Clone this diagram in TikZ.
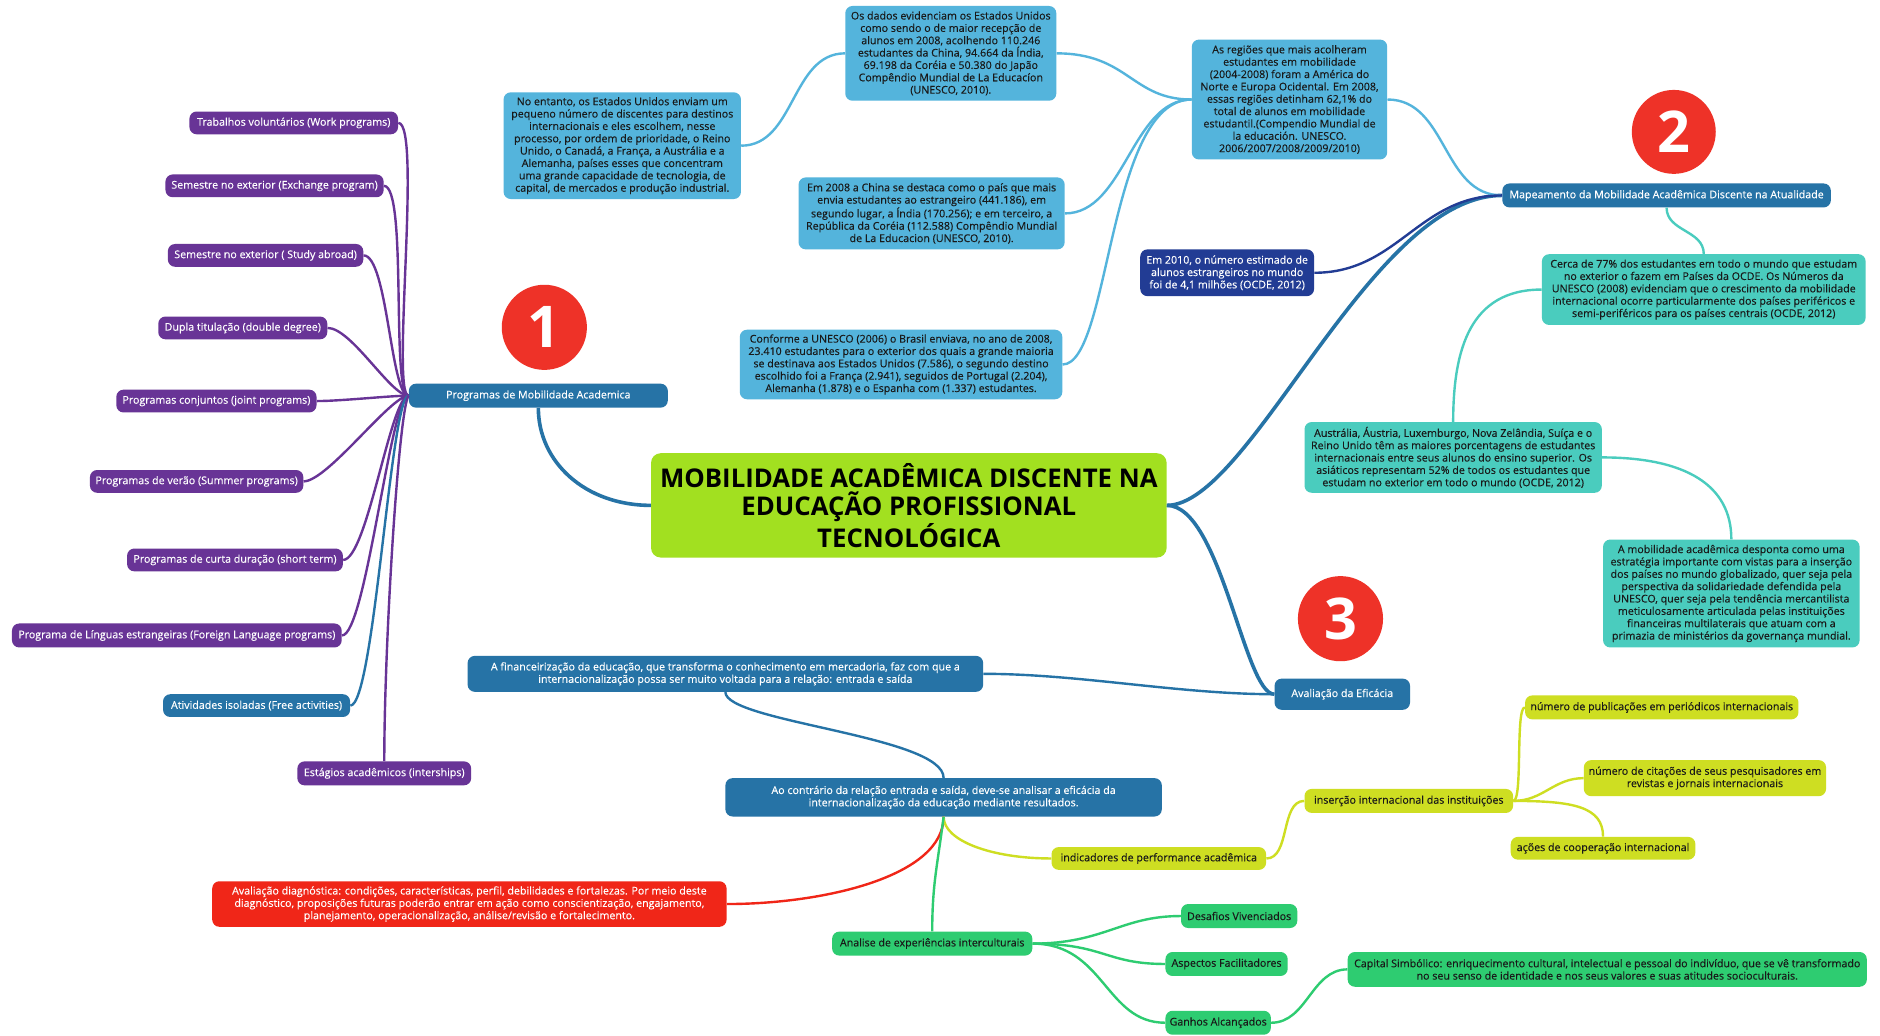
\documentclass[tikz,border=0pt]{standalone}
\usepackage{fontspec}
\setmainfont{Open Sans}
\newfontfamily\boxfont{Open Sans}[FakeBold=0.25]
\definecolor{cpur}{RGB}{104,52,150}
\definecolor{cblue}{RGB}{38,115,166}
\definecolor{clb}{RGB}{84,180,220}
\definecolor{cnavy}{RGB}{34,60,148}
\definecolor{cteal}{RGB}{74,204,190}
\definecolor{clime}{RGB}{162,224,32}
\definecolor{cyel}{RGB}{206,222,34}
\definecolor{cgrn}{RGB}{46,204,113}
\definecolor{cred}{RGB}{240,38,24}
\definecolor{ccirc}{RGB}{238,50,40}
\definecolor{ctxt}{RGB}{25,25,25}
\newcommand{\fsa}{\boxfont\fontsize{8.9}{10.3}\selectfont}
\newcommand{\fsb}{\boxfont\fontsize{8.9}{10.3}\selectfont}
\begin{document}
\begin{tikzpicture}[x=1pt,y=-1pt,
  box/.style={rounded corners=6pt, inner sep=0pt, align=center, font=\fsa},
  purbox/.style={box, fill=cpur, text=white},
  dbluebox/.style={box, fill=cblue, text=white},
  lbbox/.style={box, fill=clb, text=ctxt},
  navybox/.style={box, fill=cnavy, text=white},
  tealbox/.style={box, fill=cteal, text=ctxt},
  yelbox/.style={box, fill=cyel, text=ctxt},
  grnbox/.style={box, fill=cgrn, text=ctxt},
  redbox/.style={box, fill=cred, text=white},
  circbox/.style={ellipse, fill=ccirc, text=white, minimum width=72, minimum height=71, inner sep=0pt, font=\fontsize{48}{48}\selectfont\bfseries},
  e1/.style={line width=3pt},
  e2/.style={line width=2pt},
  wh/.style 2 args={minimum width=#1, minimum height=#2}
]
\fill[white] (0,0) rectangle (1568,864);
\useasboundingbox (0,0) rectangle (1568,864);

% central
\node[box, fill=clime, text=black, rounded corners=8pt, wh={430}{87}, font=\fontsize{21.5}{24}\selectfont\bfseries] (central) at (758,421.5)
 {MOBILIDADE ACADÊMICA DISCENTE NA\\EDUCAÇÃO PROFISSIONAL\\TECNOLÓGICA};

% branch 1
\node[dbluebox, wh={216}{20}] (prog) at (449,330) {Programas de Mobilidade Academica};
\node[purbox, wh={174}{19}] (p1) at (245,102.5) {Trabalhos voluntários (Work programs)};
\node[purbox, wh={182}{19}] (p2) at (229,155) {Semestre no exterior (Exchange program)};
\node[purbox, wh={163}{19}] (p3) at (221.5,213) {Semestre no exterior ( Study abroad)};
\node[purbox, wh={141}{19}] (p4) at (202.5,273.5) {Dupla titulação (double degree)};
\node[purbox, wh={167}{19}] (p5) at (180.5,334.5) {Programas conjuntos (joint programs)};
\node[purbox, wh={178}{19}] (p6) at (164,401.5) {Programas de verão (Summer programs)};
\node[purbox, wh={180}{19}] (p7) at (196,467) {Programas de curta duração (short term)};
\node[purbox, wh={275}{20}] (p8) at (147.5,530) {Programa de Línguas estrangeiras (Foreign Language programs)};
\node[dbluebox, wh={156}{19}] (p9) at (214,588.5) {Atividades isoladas (Free activities)};
\node[purbox, wh={145}{20}] (p10) at (320.5,645) {Estágios acadêmicos (interships)};

\node[circle, fill=ccirc, text=white, minimum size=71, inner sep=0pt, font=\fontsize{48}{48}\selectfont\bfseries] (n1) at (454,273) {1};
\node[circle, fill=ccirc, text=white, minimum size=70, inner sep=0pt, font=\fontsize{48}{48}\selectfont\bfseries] (n2) at (1396,110) {2};
\node[circle, fill=ccirc, text=white, minimum size=71, inner sep=0pt, font=\fontsize{48}{48}\selectfont\bfseries] (n3) at (1118,516) {3};

% branch 2
\node[dbluebox, wh={274}{20}] (map) at (1390,163) {Mapeamento da Mobilidade Acadêmica Discente na Atualidade};
\node[lbbox, wh={198}{89}] (lb1) at (519,121.5) {No entanto, os Estados Unidos enviam um\\pequeno número de discentes para destinos\\internacionais e eles escolhem, nesse\\processo, por ordem de prioridade, o Reino\\Unido, o Canadá, a França, a Austrália e a\\Alemanha, países esses que concentram\\uma grande capacidade de tecnologia, de\\capital, de mercados e produção industrial.};
\node[lbbox, wh={176}{79}] (lb2) at (793,44.5) {Os dados evidenciam os Estados Unidos\\como sendo o de maior recepção de\\alunos em 2008, acolhendo 110.246\\estudantes da China, 94.664 da Índia,\\69.198 da Coréia e 50.380 do Japão\\Compêndio Mundial de La Educacíon\\(UNESCO, 2010).};
\node[lbbox, wh={222}{60}] (lb3) at (777,178) {Em 2008 a China se destaca como o país que mais\\envia estudantes ao estrangeiro (441.186), em\\segundo lugar, a Índia (170.256); e em terceiro, a\\República da Coréia (112.588) Compêndio Mundial\\de La Educacion (UNESCO, 2010).};
\node[lbbox, wh={269}{58}] (lb4) at (751.5,304) {Conforme a UNESCO (2006) o Brasil enviava, no ano de 2008,\\23.410 estudantes para o exterior dos quais a grande maioria\\se destinava aos Estados Unidos (7.586), o segundo destino\\escolhido foi a França (2.941), seguidos de Portugal (2.204),\\Alemanha (1.878) e o Espanha com (1.337) estudantes.};
\node[lbbox, wh={163}{100}] (lb5) at (1075.5,83) {As regiões que mais acolheram\\estudantes em mobilidade\\(2004-2008) foram a América do\\Norte e Europa Ocidental. Em 2008,\\essas regiões detinham 62,1\% do\\total de alunos em mobilidade\\estudantil.(Compendio Mundial de\\la educación. UNESCO.\\2006/2007/2008/2009/2010)};
\node[navybox, wh={145}{39}] (nav) at (1023.5,227.5) {Em 2010, o número estimado de\\alunos estrangeiros no mundo\\foi de 4,1 milhões (OCDE, 2012)};
\node[tealbox, wh={270}{59}] (t1) at (1421,241.5) {Cerca de 77\% dos estudantes em todo o mundo que estudam\\no exterior o fazem em Países da OCDE. Os Números da\\UNESCO (2008) evidenciam que o crescimento da mobilidade\\internacional ocorre particularmente dos países periféricos e\\semi-periféricos para os países centrais (OCDE, 2012)};
\node[tealbox, wh={248}{59}] (t2) at (1212,381.5) {Austrália, Áustria, Luxemburgo, Nova Zelândia, Suíça e o\\Reino Unido têm as maiores porcentagens de estudantes\\internacionais entre seus alunos do ensino superior. Os\\asiáticos representam 52\% de todos os estudantes que\\estudam no exterior em todo o mundo (OCDE, 2012)};
\node[tealbox, wh={214}{90}] (t3) at (1444,495) {A mobilidade acadêmica desponta como uma\\estratégia importante com vistas para a inserção\\dos países no mundo globalizado, quer seja pela\\perspectiva da solidariedade defendida pela\\UNESCO, quer seja pela tendência mercantilista\\meticulosamente articulada pelas instituições\\financeiras multilaterais que atuam com a\\primazia de ministérios da governança mundial.};

% branch 3
\node[dbluebox, wh={113}{26}] (aval) at (1119.5,579) {Avaliação da Eficácia};
\node[dbluebox, wh={430}{30}, font=\fsb] (fin) at (605,562) {A financeirização da educação, que transforma o conhecimento em mercadoria, faz com que a\\internacionalização possa ser muito voltada para a relação: entrada e saída};
\node[dbluebox, wh={364}{32}, font=\fsb] (ao) at (787,665) {Ao contrário da relação entrada e saída, deve-se analisar a eficácia da\\internacionalização da educação mediante resultados.};
\node[redbox, wh={429}{38}, font=\fsb] (diag) at (391.5,754) {Avaliação diagnóstica: condições, características, perfil, debilidades e fortalezas. Por meio deste\\diagnóstico, proposições futuras poderão entrar em ação como conscientização, engajamento,\\planejamento, operacionalização, análise/revisão e fortalecimento.};
\node[yelbox, wh={179}{19}] (ind) at (966.5,716) {indicadores de performance acadêmica};
\node[yelbox, wh={174}{20}] (ins) at (1175,668) {inserção internacional das instituições};
\node[yelbox, wh={228}{20}] (pub) at (1386,590) {número de publicações em periódicos internacionais};
\node[yelbox, wh={202}{30}] (cit) at (1422,649) {número de citações de seus pesquisadores em\\revistas e jornais internacionais};
\node[yelbox, wh={154}{19}] (acoes) at (1337,707.5) {ações de cooperação internacional};
\node[grnbox, wh={167}{20}] (anal) at (777.5,787) {Analise de experiências interculturais};
\node[grnbox, wh={97}{20}] (des) at (1033.5,764) {Desafios Vivenciados};
\node[grnbox, wh={102}{20}] (asp) at (1023,804) {Aspectos Facilitadores};
\node[grnbox, wh={88}{20}] (gan) at (1016,853) {Ganhos Alcançados};
\node[grnbox, wh={433}{29}, font=\fsb] (cap) at (1340.5,808.5) {Capital Simbólico: enriquecimento cultural, intelectual e pessoal do indivíduo, que se vê transformado\\no seu senso de identidade e nos seus valores e suas atitudes socioculturais.};

% connectors: central
\draw[e1,cblue] (central.west) .. controls +(-55,0) and +(0,45) .. (prog.south);
\draw[e1,cblue] (central.east) .. controls +(70,0) and +(-110,0) .. (map.west);
\draw[e1,cblue] (central.east) .. controls +(45,0) and +(-25,0) .. (aval.west);

% branch 1 connectors
\foreach \c in {p1,p2,p3,p4,p5,p6,p7,p8}
  \draw[e2,cpur] (prog.west) .. controls +(-15,0) and +(20,0) .. (\c.east);
\draw[e2,cblue] (prog.west) .. controls +(-15,0) and +(20,0) .. (p9.east);
\draw[e2,cpur] (prog.west) .. controls +(-8,10) and +(0,-100) .. (p10.north);

% branch 2 connectors
\draw[e2,clb] (lb1.east) .. controls +(45,0) and +(-45,0) .. (lb2.west);
\draw[e2,clb] (lb2.east) .. controls +(60,0) and +(-50,0) .. (lb5.west);
\draw[e2,clb] (lb3.east) .. controls +(50,0) and +(-50,0) .. (lb5.west);
\draw[e2,clb] (lb4.east) .. controls +(40,0) and +(-70,0) .. (lb5.west);
\draw[e2,clb] (lb5.east) .. controls +(50,0) and +(-50,0) .. (map.west);
\draw[e2,cnavy] (nav.east) .. controls +(70,0) and +(-70,0) .. (map.west);
\draw[e2,cteal] (map.south) .. controls +(0,20) and +(0,-20) .. (t1.north);
\draw[e2,cteal] (t1.west) .. controls +(-60,0) and +(0,-60) .. (t2.north);
\draw[e2,cteal] (t2.east) .. controls +(70,0) and +(0,-45) .. (t3.north);

% branch 3 connectors
\draw[e2,cblue] (aval.west) .. controls +(-80,0) and +(80,0) .. (fin.east);
\draw[e2,cblue] (fin.south) .. controls +(0,25) and +(0,-35) .. (ao.north);
\draw[e2,cred] (ao.south) .. controls +(0,50) and +(80,0) .. (diag.east);
\draw[e2,cyel] (ao.south) .. controls +(0,20) and +(-50,0) .. (ind.west);
\draw[e2,cgrn] (ao.south) .. controls +(-5,40) and +(0,-40) .. (anal.north);
\draw[e2,cyel] (ind.east) .. controls +(20,0) and +(-20,0) .. (ins.west);
\draw[e2,cyel] (ins.east) .. controls +(8,0) and +(-8,0) .. (pub.west);
\draw[e2,cyel] (ins.east) .. controls +(25,0) and +(-25,0) .. (cit.west);
\draw[e2,cyel] (ins.east) .. controls +(50,0) and +(0,-25) .. (acoes.north);
\draw[e2,cgrn] (anal.east) .. controls +(60,0) and +(-50,0) .. (des.west);
\draw[e2,cgrn] (anal.east) .. controls +(60,0) and +(-50,0) .. (asp.west);
\draw[e2,cgrn] (anal.east) .. controls +(60,0) and +(-50,0) .. (gan.west);
\draw[e2,cgrn] (gan.east) .. controls +(30,0) and +(-30,0) .. (cap.west);
\end{tikzpicture}
\end{document}
